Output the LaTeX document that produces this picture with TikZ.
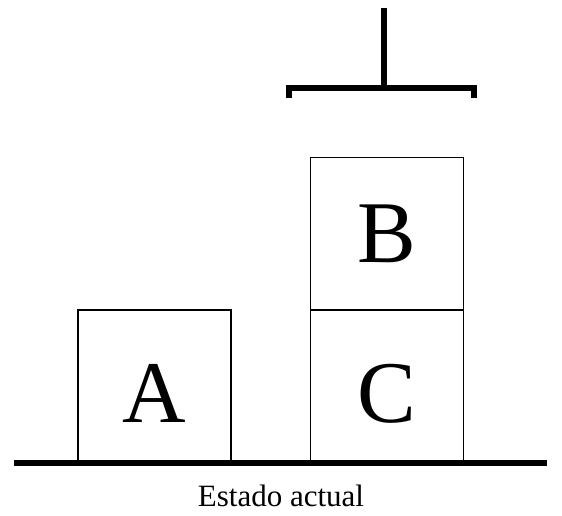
\documentclass[tikz,border=0pt]{standalone}
\usepackage{fontspec}
\setmainfont{Liberation Serif}
\begin{document}
\begin{tikzpicture}[x=1pt,y=-1pt,
  block/.style={draw, line width=1.3pt, minimum width=153pt, minimum height=152pt, inner sep=0pt, font=\fontsize{88}{88}\selectfont},
  lowtext/.style={text height=72pt, text depth=0pt},
  thickline/.style={line width=6pt, line join=miter},
  ground/.style={line width=5.5pt}]
\useasboundingbox (0,0) rectangle (562,515);
\node[block, lowtext] (A) at (154.5,386) {A};
\node[block, lowtext] (C) at (387,386) {C};
\node[block] (B) at (387,233.5) {B};
\coordinate (g1) at (14,463);
\coordinate (g2) at (547,463);
\draw[ground] (g1) -- (g2);
\coordinate (armtop) at (384,8);
\coordinate (armbot) at (384,88);
\coordinate (tl) at (289,98);
\coordinate (tr) at (474,98);
\draw[thickline] (armtop) -- (armbot);
\draw[thickline] (tl) |- (armbot) -| (tr);
\node[font=\fontsize{31}{31}\selectfont, anchor=base, inner sep=0pt] (lbl) at (281,506) {Estado actual};
\end{tikzpicture}
\end{document}
